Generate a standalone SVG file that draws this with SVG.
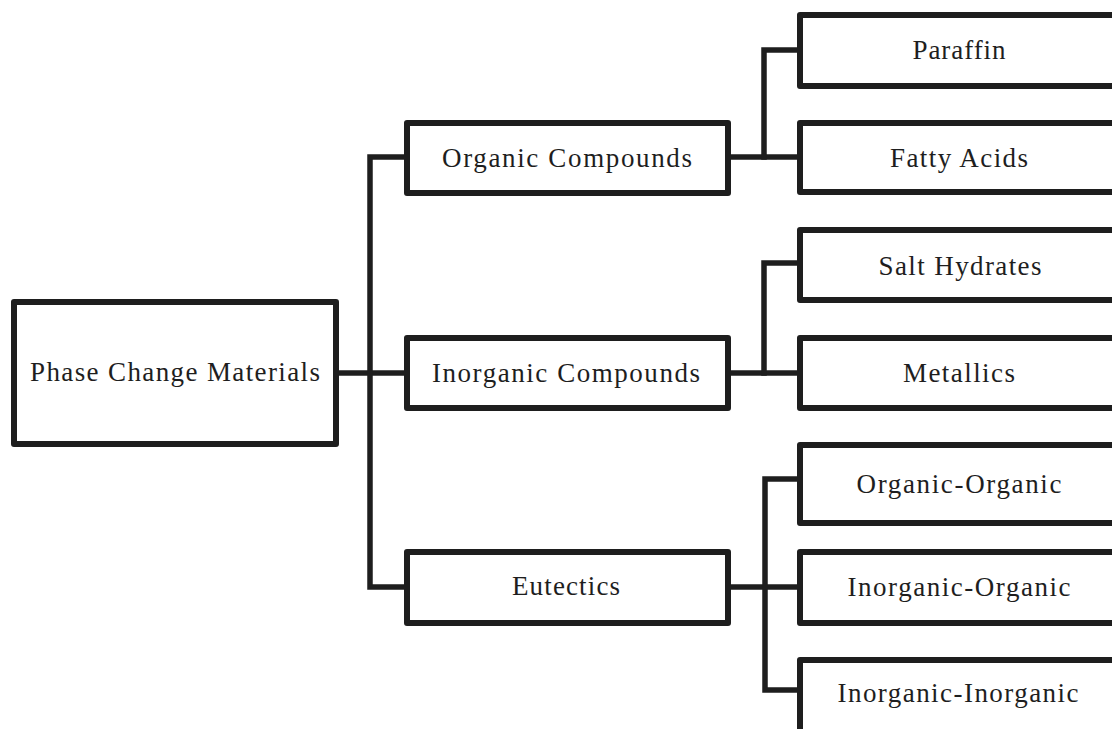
<svg xmlns="http://www.w3.org/2000/svg" width="1112" height="729" viewBox="0 0 1112 729">
<style>
.box{fill:#fff;stroke:#1e1e1e;stroke-width:6;stroke-linejoin:round}
.ln{fill:none;stroke:#1e1e1e;stroke-width:5.5;stroke-linecap:square;stroke-linejoin:miter}
text{font-family:'Liberation Serif','Times New Roman','DejaVu Serif',serif;font-size:27px;fill:#1e1e1e;text-anchor:middle}
</style>
<rect width="1112" height="729" fill="#fff"/>
<g id="connectors">
<path class="ln" d="M336 373H407"/>
<path class="ln" d="M407 157H370V587H407"/>
<path class="ln" d="M728 157H800"/>
<path class="ln" d="M800 50H764V157"/>
<path class="ln" d="M728 373H800"/>
<path class="ln" d="M800 263H764V373"/>
<path class="ln" d="M728 587H800"/>
<path class="ln" d="M800 479H765V690H800"/>
</g>
<g id="pcm"><rect class="box" x="14" y="302" width="322" height="142"/><text x="175" y="381" textLength="290" lengthAdjust="spacing">Phase Change Materials</text></g>
<g id="organic"><rect class="box" x="407" y="123" width="321" height="70"/><text x="567" y="167" textLength="250" lengthAdjust="spacing">Organic Compounds</text></g>
<g id="inorganic"><rect class="box" x="407" y="338" width="321" height="70"/><text x="566" y="382" textLength="268" lengthAdjust="spacing">Inorganic Compounds</text></g>
<g id="eutectics"><rect class="box" x="407" y="552" width="321" height="71"/><text x="566" y="595" textLength="108" lengthAdjust="spacing">Eutectics</text></g>
<g id="paraffin"><rect class="box" x="800" y="15" width="318" height="71"/><text x="959" y="59" textLength="93" lengthAdjust="spacing">Paraffin</text></g>
<g id="fatty"><rect class="box" x="800" y="123" width="318" height="69"/><text x="959" y="167" textLength="138" lengthAdjust="spacing">Fatty Acids</text></g>
<g id="salt"><rect class="box" x="800" y="230" width="318" height="70"/><text x="960" y="275" textLength="163" lengthAdjust="spacing">Salt Hydrates</text></g>
<g id="metallics"><rect class="box" x="800" y="338" width="318" height="70"/><text x="959" y="382" textLength="112" lengthAdjust="spacing">Metallics</text></g>
<g id="org-org"><rect class="box" x="800" y="445" width="318" height="78"/><text x="959" y="493" textLength="205" lengthAdjust="spacing">Organic-Organic</text></g>
<g id="inorg-org"><rect class="box" x="800" y="552" width="318" height="71"/><text x="959" y="596" textLength="223" lengthAdjust="spacing">Inorganic-Organic</text></g>
<g id="inorg-inorg"><rect class="box" x="800" y="660" width="318" height="80"/><text x="958" y="702" textLength="241" lengthAdjust="spacing">Inorganic-Inorganic</text></g>
</svg>
